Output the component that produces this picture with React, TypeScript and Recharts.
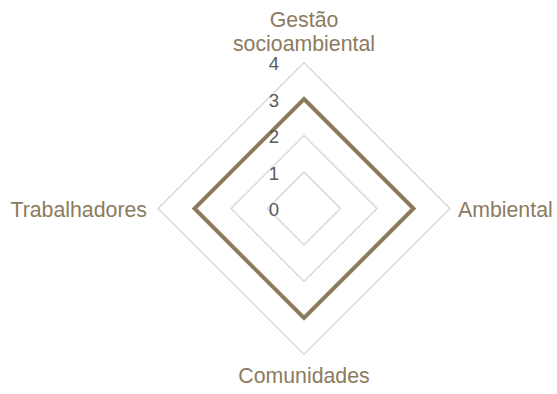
import React from 'react';
import { RadarChart, Radar, PolarGrid, PolarAngleAxis, PolarRadiusAxis } from 'recharts';

const categories = ['Gestão socioambiental', 'Ambiental', 'Comunidades', 'Trabalhadores'];
const seriesValues = [3, 3, 3, 3];
const radiusTicks = [0, 1, 2, 3, 4];

const data = categories.map((c, i) => ({ axis: c, value: seriesValues[i] }));

const CX = 304;
const CY = 208.5;
const FONT = 'Liberation Sans, Arial, sans-serif';
const LABEL_COLOR = '#8c7b5e';

const AngleTick = (props: any) => {
  const { x, y, payload } = props;
  const text: string = String(payload.value);
  const dx = x - CX;
  const dy = y - CY;
  const lines = text.length > 15 ? text.split(' ') : [text];
  const lh = 24;
  if (Math.abs(dy) > Math.abs(dx)) {
    if (dy < 0) {
      const lastBase = y - 3.5;
      return (
        <text textAnchor="middle" fill={LABEL_COLOR} fontSize={21.3} fontFamily={FONT}>
          {lines.map((l, i) => (
            <tspan key={i} x={x} y={lastBase - (lines.length - 1 - i) * lh}>{l}</tspan>
          ))}
        </text>
      );
    }
    return (
      <text textAnchor="middle" fill={LABEL_COLOR} fontSize={21.3} fontFamily={FONT}>
        {lines.map((l, i) => (
          <tspan key={i} x={x} y={y + 20.5 + i * lh}>{l}</tspan>
        ))}
      </text>
    );
  }
  const anchor = dx < 0 ? 'end' : 'start';
  const xx = dx < 0 ? x - 3 : x;
  return (
    <text x={xx} y={y + 8} textAnchor={anchor} fill={LABEL_COLOR} fontSize={21.3} fontFamily={FONT}>
      {text}
    </text>
  );
};

const RadiusTick = (props: any) => {
  const { x, y, payload } = props;
  return (
    <text x={x - 30} y={y + 7.5} textAnchor="middle" fill="#595959" fontSize={18.6} fontFamily={FONT}>
      {payload.value}
    </text>
  );
};

export default function App() {
  return (
    <div style={{ position: 'absolute', left: 0, top: 0, width: 557, height: 394, background: '#fff' }}>
      <RadarChart
        width={557}
        height={394}
        data={data}
        cx={CX}
        cy={CY}
        outerRadius={146}
        margin={{ top: 0, right: 0, bottom: 0, left: 0 }}
      >
        <PolarGrid gridType="polygon" radialLines={false} stroke="#d9d9d9" strokeWidth={1.5} />
        <PolarAngleAxis dataKey="axis" tick={AngleTick} tickLine={false} axisLine={false} />
        <Radar
          dataKey="value"
          stroke="#8c7b5a"
          strokeWidth={4}
          fill="none"
          fillOpacity={0}
          dot={false}
          isAnimationActive={false}
        />
        <PolarRadiusAxis
          angle={90}
          domain={[0, 4]}
          ticks={radiusTicks}
          tickCount={5}
          axisLine={false}
          tickLine={false}
          tick={RadiusTick}
        />
      </RadarChart>
    </div>
  );
}
